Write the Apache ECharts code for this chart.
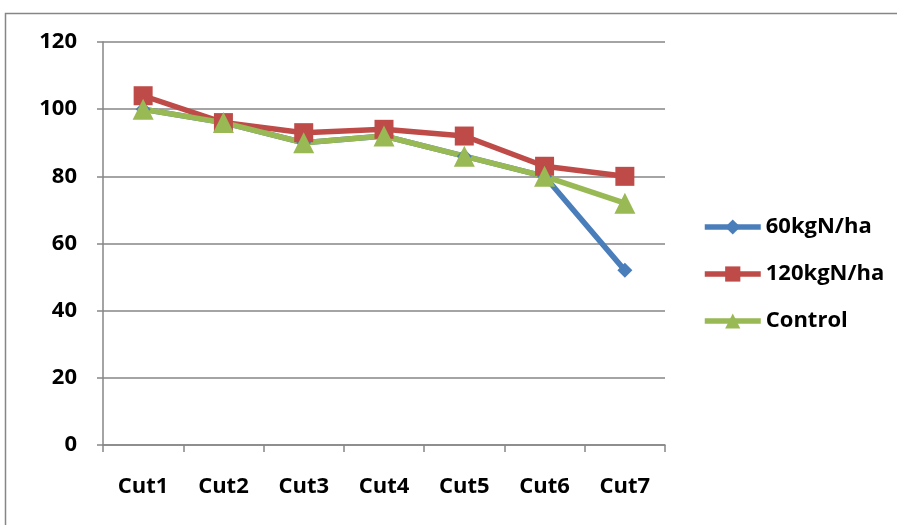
<!DOCTYPE html>
<html>
<head>
<meta charset="utf-8">
<script src="https://cdn.jsdelivr.net/npm/echarts@6/dist/echarts.min.js"></script>
<style>
  html, body { margin: 0; padding: 0; background: #ffffff; }
  #chart { width: 897px; height: 525px; }
</style>
</head>
<body>
<div id="chart"></div>
<script>
// Dry-matter trend per cut under three nitrogen treatments
const categories = ['Cut1', 'Cut2', 'Cut3', 'Cut4', 'Cut5', 'Cut6', 'Cut7'];
const n60 = [100, 96, 90, 92, 86, 80, 52];
const n120 = [104, 96, 93, 94, 92, 83, 80];
const control = [100, 96, 90, 92, 86, 80, 72];
const yTicks = [0, 20, 40, 60, 80, 100, 120];

const font = '"Open Sans", "Liberation Sans", sans-serif';
const chart = echarts.init(document.getElementById('chart'), null, { renderer: 'canvas' });

function line(name, data, color, symbol, size) {
  return {
    name: name,
    type: 'line',
    data: data,
    symbol: symbol,
    symbolSize: size,
    lineStyle: { color: color, width: 5.5 },
    itemStyle: { color: color },
    emphasis: { disabled: true },
    animation: false
  };
}

chart.setOption({
  animation: false,
  backgroundColor: '#ffffff',
  graphic: [{
    type: 'rect',
    shape: { x: 5.5, y: 13.5, width: 1000, height: 1000 },
    style: { fill: 'none', stroke: '#868686', lineWidth: 1.5 },
    z: 0
  }],
  grid: { left: 103, right: 232, top: 42, bottom: 80 },
  legend: {
    orient: 'vertical',
    left: 697,
    top: 211,
    itemGap: 25,
    itemWidth: 56,
    itemHeight: 19,
    lineStyle: { width: 5.5 },
    textStyle: { fontFamily: font, fontWeight: 'bold', fontSize: 22, color: '#000000' },
    data: ['60kgN/ha', '120kgN/ha', 'Control']
  },
  xAxis: {
    type: 'category',
    data: categories,
    boundaryGap: true,
    axisLine: { lineStyle: { color: '#868686', width: 1.5 } },
    axisTick: { show: true, alignWithLabel: false, length: 7, lineStyle: { color: '#868686', width: 1.5 } },
    axisLabel: { margin: 31, fontFamily: font, fontWeight: 'bold', fontSize: 22, color: '#000000' }
  },
  yAxis: {
    type: 'value',
    min: yTicks[0],
    max: yTicks[yTicks.length - 1],
    interval: 20,
    axisLine: { show: true, lineStyle: { color: '#868686', width: 1.5 } },
    axisTick: { show: true, length: 6, lineStyle: { color: '#868686', width: 1.5 } },
    splitLine: { lineStyle: { color: '#868686', width: 1.5 } },
    axisLabel: { margin: 26, fontFamily: font, fontWeight: 'bold', fontSize: 22, color: '#000000' }
  },
  series: [
    line('60kgN/ha', n60, '#4A7EBB', 'diamond', 15),
    line('120kgN/ha', n120, '#BE4B48', 'rect', 19),
    line('Control', control, '#98B954', 'triangle', 21)
  ]
});
</script>
</body>
</html>
